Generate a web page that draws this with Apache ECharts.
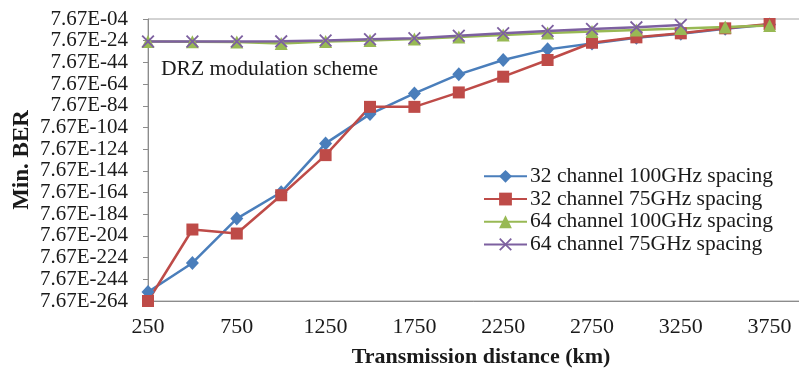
<!DOCTYPE html>
<html>
<head>
<meta charset="utf-8">
<script src="https://cdn.jsdelivr.net/npm/echarts@6/dist/echarts.min.js"></script>
<style>
  html, body { margin: 0; padding: 0; background: #fff; }
  #chart { width: 799px; height: 368px; }
</style>
</head>
<body>
<div id="chart"></div>
<script>
// Transmission distance (km)
const distances = [250, 500, 750, 1000, 1250, 1500, 1750, 2000, 2250, 2500, 2750, 3000, 3250, 3500, 3750];

// Minimum BER, written as the decimal exponent n of 7.67E(n)
const ch32_100GHz = [-255.7, -228.9, -188.0, -163.7, -118.7, -91.7, -72.6, -55.0, -41.8, -32.0, -26.5, -21.3, -17.6, -13.0, -9.0];
const ch32_75GHz  = [-264.0, -198.1, -201.8, -166.5, -129.5, -85.0, -85.0, -71.7, -57.2, -41.8, -25.9, -20.9, -17.2, -12.6, -8.6];
const ch64_100GHz = [-24.8, -25.0, -25.2, -26.6, -24.8, -23.8, -22.5, -20.6, -18.8, -16.9, -15.5, -14.2, -12.8, -11.4, -10.0];
const ch64_75GHz  = [-24.8, -24.8, -24.8, -24.6, -23.8, -22.7, -21.8, -19.4, -17.2, -15.1, -13.2, -11.7, -9.5];

const seriesNames = [
  '32 channel 100GHz spacing',
  '32 channel 75GHz spacing',
  '64 channel 100GHz spacing',
  '64 channel 75GHz spacing'
];

// Exponent axis: ticks every 20 decades from 7.67E-264 up to 7.67E-04
const expMin = -264;
const expMax = -4;
const expStep = 20;

const FONT = 'Liberation Serif';

function pairs(values) {
  // value axis runs from 0 (= expMin) upward
  return values.map((v, i) => [distances[i], v - expMin]);
}

function tickLabel(v) {
  const e = Math.round(v + expMin);
  const a = Math.abs(e);
  return '7.67E-' + (a < 10 ? '0' + a : String(a));
}

const crossPath = 'path://M0,1L1,0L5,4L9,0L10,1L6,5L10,9L9,10L5,6L1,10L0,9L4,5Z';

const colors = ['#4A7EBB', '#BE4B48', '#98B954', '#7D60A0'];
const symbols = ['diamond', 'rect', 'triangle', crossPath];
const symbolSizes = [[13, 14], 12, 13, 13];
const dataSets = [ch32_100GHz, ch32_75GHz, ch64_100GHz, ch64_75GHz];

const chart = echarts.init(document.getElementById('chart'), null, { renderer: 'canvas' });

chart.setOption({
  animation: false,
  backgroundColor: '#ffffff',
  textStyle: { fontFamily: FONT },
  grid: {
    left: 148, top: 19, bottom: 67, right: -15,
    outerBoundsMode: 'none',
    containLabel: false,
    show: true, borderColor: '#a6a6a6', borderWidth: 1, backgroundColor: 'transparent'
  },
  xAxis: {
    type: 'value',
    min: 250, max: 4000, interval: 500,
    axisLine: { show: true, lineStyle: { color: '#8c8c8c', width: 1 } },
    axisTick: { show: false },
    splitLine: { show: false },
    axisLabel: {
      color: '#1a1a1a', fontFamily: FONT, fontSize: 22, margin: 15,
      showMinLabel: true,
      showMaxLabel: false,
      formatter: v => String(v)
    },
    name: 'Transmission distance (km)',
    nameLocation: 'middle',
    nameGap: 45,
    nameTextStyle: { color: '#1a1a1a', fontFamily: FONT, fontSize: 22, fontWeight: 'bold' }
  },
  yAxis: {
    type: 'value',
    min: 0, max: expMax - expMin, interval: expStep,
    axisLine: { show: true, lineStyle: { color: '#8c8c8c', width: 1 } },
    axisTick: { show: true, inside: false, length: 5, lineStyle: { color: '#8c8c8c' } },
    splitLine: { show: false },
    axisLabel: {
      color: '#1a1a1a', fontFamily: FONT, fontSize: 21, margin: 20,
      formatter: tickLabel
    },
    name: 'Min. BER',
    nameLocation: 'middle',
    nameRotate: 90,
    nameGap: 114,
    nameMoveOverlap: false,
    nameTextStyle: { color: '#1a1a1a', fontFamily: FONT, fontSize: 23, fontWeight: 'bold' }
  },
  legend: {
    left: 483, top: 165,
    padding: 0,
    orient: 'vertical',
    itemWidth: 43, itemHeight: 16, itemGap: 0,
    textStyle: { color: '#1a1a1a', fontFamily: FONT, fontSize: 21.5, lineHeight: 22.7, padding: [0, 0, 0, -2] },
    data: seriesNames
  },
  graphic: [{
    type: 'text',
    left: 161, top: 58,
    style: { text: 'DRZ modulation scheme', font: '21.6px "Liberation Serif"', fill: '#1a1a1a' }
  }],
  series: dataSets.map((d, i) => ({
    name: seriesNames[i],
    type: 'line',
    data: pairs(d),
    symbol: symbols[i],
    symbolSize: symbolSizes[i],
    showAllSymbol: true,
    clip: false,
    lineStyle: { color: colors[i], width: 2.5 },
    itemStyle: { color: colors[i] }
  }))
});
</script>
</body>
</html>
